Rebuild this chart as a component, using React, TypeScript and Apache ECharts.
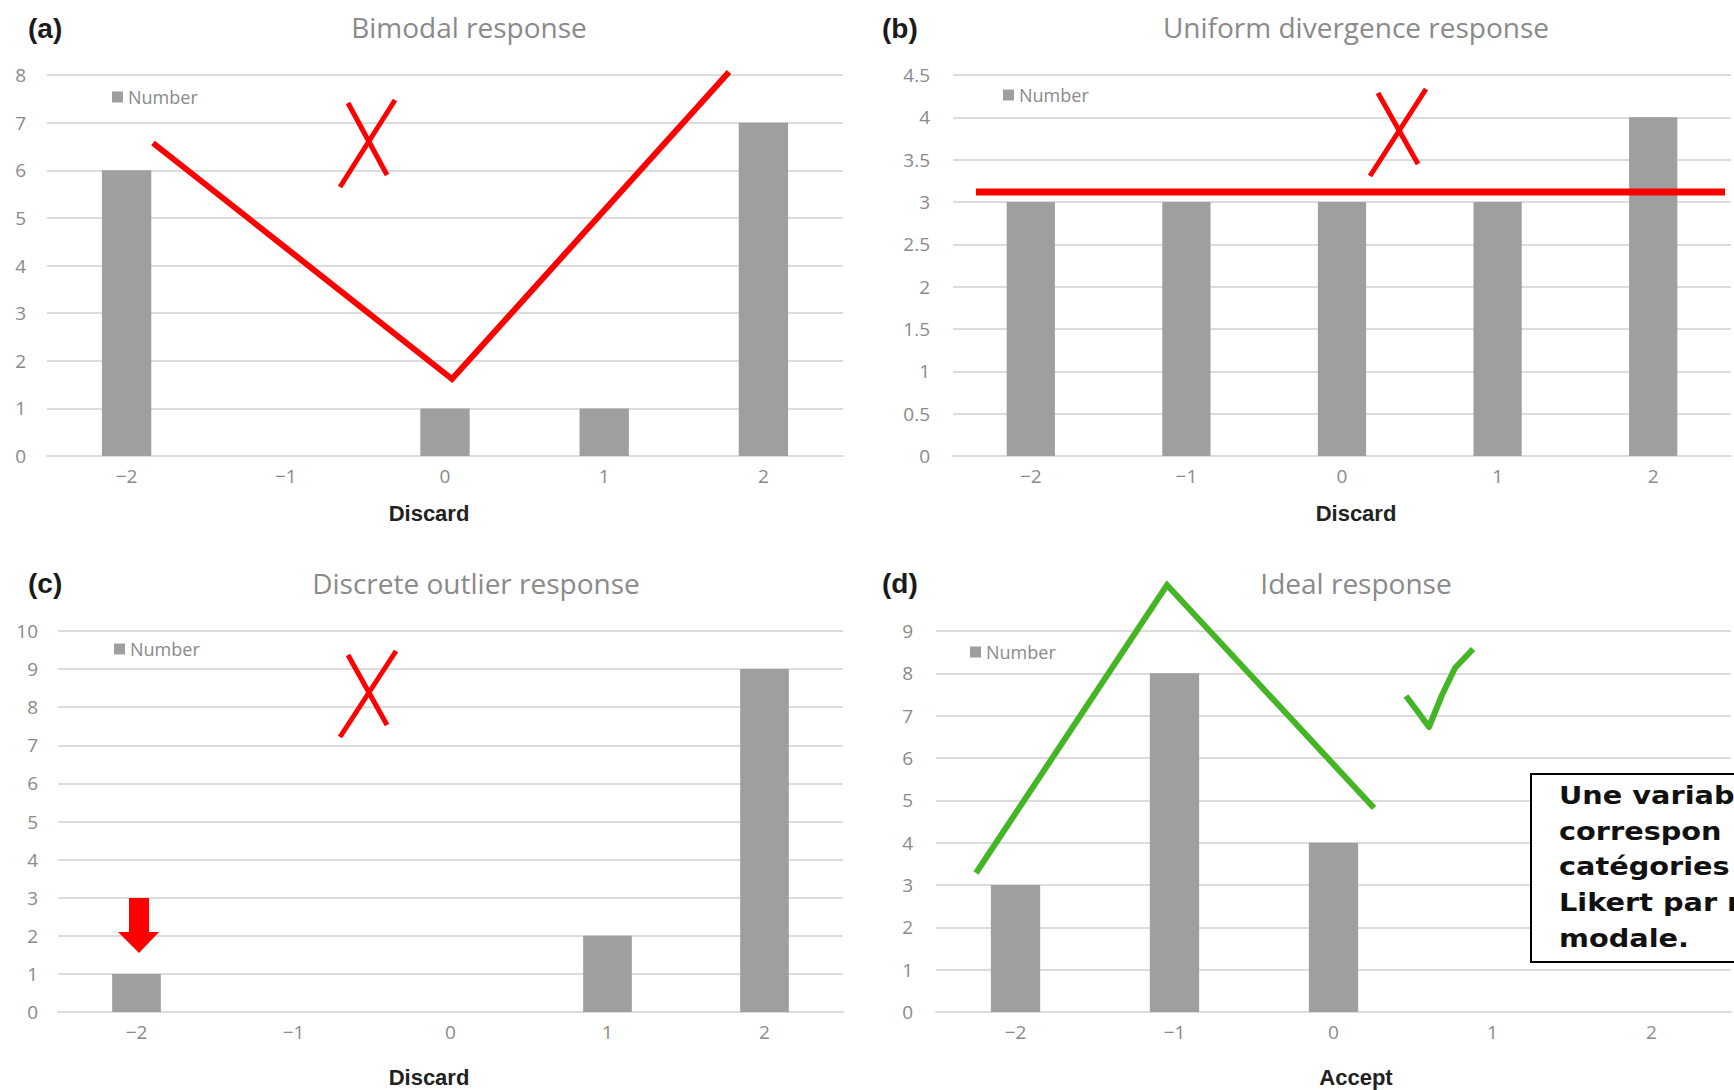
import React, { useEffect, useRef } from "react";
import * as echarts from "echarts";

// ---- data ----
const CATEGORIES = ["−2", "−1", "0", "1", "2"];
const BIMODAL = [6, 0, 1, 1, 7];
const UNIFORM = [3, 3, 3, 3, 4];
const OUTLIER = [1, 0, 0, 2, 9];
const IDEAL = [3, 8, 4, 0, 0];

const PANEL_TITLES = ["Bimodal response", "Uniform divergence response", "Discrete outlier response", "Ideal response"];
const PANEL_LETTERS = ["(a)", "(b)", "(c)", "(d)"];
const AXIS_NAMES = ["Discard", "Discard", "Discard", "Accept"];
const Y_MAX = [8, 4.5, 10, 9];
const Y_INTERVAL = [1, 0.5, 1, 1];
const SERIES_NAME = "Number";
const NOTE_LINES = ["Une variab", "correspon", "catégories", "Likert par r", "modale."];

// ---- layout ----
const GRIDS = [
  { left: 47, right: 891, top: 75, bottom: 634 },
  { left: 953, right: 3, top: 75, bottom: 634 },
  { left: 58, right: 891, top: 631, bottom: 78 },
  { left: 936, right: 3, top: 631, bottom: 78 },
];
const LABEL_MARGIN = [21, 23, 20, 23];
const TITLE_POS = [[469, 27], [1356, 27], [476, 583], [1356, 583]];
const LETTER_POS = [[28, 28], [882, 28], [28, 583], [882, 583]];
const NAME_POS = [[429, 513], [1356, 513], [429, 1077], [1356, 1077]];
const LEGEND_POS = [[107, 83], [998, 81], [109, 635], [965, 638]];

const GRAY_TEXT = "#8a8a8a";
const BAR = "#9f9fa1";
const GRID_LINE = "#dcdcdc";
const RED = "#ff0000";
const GREEN = "#44b524";

export default function App() {
  const ref = useRef<HTMLDivElement>(null);
  useEffect(() => {
    const chart = echarts.init(ref.current!, null, { renderer: "svg" });
    const datasets = [BIMODAL, UNIFORM, OUTLIER, IDEAL];

    const textEl = (t: string, x: number, y: number, size: number, color: string, weight: string, family: string, align = "center", scaleX = 1) => ({
      type: "text",
      x,
      y,
      scaleX,
      z: 100,
      style: {
        text: t,
        fill: color,
        fontSize: size,
        fontWeight: weight,
        fontFamily: family,
        textAlign: align,
        textVerticalAlign: "middle",
        align,
        verticalAlign: "middle",
      },
    });

    const line = (pts: number[][], color: string, w: number, join = "miter") => ({
      type: "polyline",
      z: 100,
      shape: { points: pts },
      style: { stroke: color, lineWidth: w, fill: null, lineCap: "butt", lineJoin: join },
    });

    const graphics: any[] = [];
    for (let i = 0; i < 4; i++) {
      graphics.push(textEl(PANEL_TITLES[i], TITLE_POS[i][0], TITLE_POS[i][1], 28, GRAY_TEXT, "normal", "Open Sans"));
      graphics.push(textEl(PANEL_LETTERS[i], LETTER_POS[i][0], LETTER_POS[i][1], 28, "#1a1a1a", "bold", "Liberation Sans", "left"));
      graphics.push(textEl(AXIS_NAMES[i], NAME_POS[i][0], NAME_POS[i][1], 22, "#222222", "bold", "Liberation Sans"));
    }
    // annotations (a)
    graphics.push(line([[153, 143], [452, 379], [729, 72]], RED, 6));
    graphics.push(line([[348, 103], [387, 175]], RED, 5));
    graphics.push(line([[395, 100], [340, 187]], RED, 5));
    // annotations (b)
    graphics.push(line([[976, 192], [1725, 192]], RED, 7));
    graphics.push(line([[1378, 93], [1418, 164]], RED, 5));
    graphics.push(line([[1426, 89], [1370, 176]], RED, 5));
    // annotations (c)
    graphics.push(line([[348, 655], [387, 725]], RED, 5));
    graphics.push(line([[396, 651], [340, 737]], RED, 5));
    graphics.push({
      type: "polygon",
      z: 100,
      shape: { points: [[129, 898], [149, 898], [149, 932], [159, 932], [139, 953], [118, 932], [129, 932]] },
      style: { fill: RED },
    });
    // annotations (d)
    graphics.push(line([[976, 873], [1167, 585], [1374, 808]], GREEN, 6));
    graphics.push(line([[1406, 696], [1418, 712], [1429, 727], [1442, 695], [1455, 668], [1473, 649]], GREEN, 6, "round"));
    graphics.push({
      type: "rect",
      z: 100,
      shape: { x: 1531, y: 774, width: 260, height: 188 },
      style: { fill: "#ffffff", stroke: "#000000", lineWidth: 2 },
    });
    NOTE_LINES.forEach((t, k) => {
      graphics.push(textEl(t, 1559, 795 + k * 35.7, 25, "#111111", "bold", "DejaVu Sans", "left", 1.15));
    });

    const option: any = {
      animation: false,
      backgroundColor: "#ffffff",
      grid: GRIDS.map((g) => ({ ...g, containLabel: false })),
      legend: LEGEND_POS.map((p) => ({
        data: [SERIES_NAME],
        left: p[0],
        top: p[1],
        icon: "rect",
        itemWidth: 11,
        itemHeight: 11,
        selectedMode: false,
        textStyle: { color: GRAY_TEXT, fontSize: 18, fontFamily: "Open Sans" },
      })),
      xAxis: GRIDS.map((_, i) => ({
        type: "category",
        gridIndex: i,
        data: CATEGORIES,
        axisTick: { show: false },
        axisLine: { lineStyle: { color: GRID_LINE, width: 2 } },
        axisLabel: { color: GRAY_TEXT, fontSize: 19, fontFamily: "Open Sans", margin: 10 },
      })),
      yAxis: GRIDS.map((_, i) => ({
        type: "value",
        gridIndex: i,
        min: 0,
        max: Y_MAX[i],
        interval: Y_INTERVAL[i],
        axisLine: { show: false },
        axisTick: { show: false },
        splitLine: { lineStyle: { color: GRID_LINE, width: 2 } },
        axisLabel: { color: GRAY_TEXT, fontSize: 19, fontFamily: "Open Sans", margin: LABEL_MARGIN[i] },
      })),
      series: datasets.map((d, i) => ({
        type: "bar",
        name: SERIES_NAME,
        xAxisIndex: i,
        yAxisIndex: i,
        data: d,
        barWidth: "31%",
        itemStyle: { color: BAR },
      })),
      graphic: { elements: graphics },
    };
    chart.setOption(option);
    return () => chart.dispose();
  }, []);

  return (
    <div
      ref={ref}
      style={{ position: "absolute", left: 0, top: 0, width: 1734, height: 1090, overflow: "hidden" }}
    />
  );
}
